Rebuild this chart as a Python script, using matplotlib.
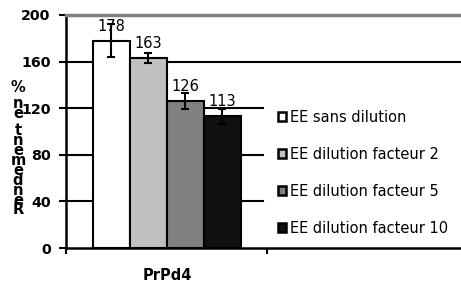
import matplotlib
matplotlib.use("Agg")
import matplotlib.pyplot as plt
from matplotlib.patches import Patch

plt.rcParams['font.family'] = ['DejaVu Sans']

category = "PrPd4"
series = ["EE sans dilution", "EE dilution facteur 2", "EE dilution facteur 5", "EE dilution facteur 10"]
values = [178, 163, 126, 113]
errors = [14, 4, 7, 6.5]
colors = ["#ffffff", "#c0c0c0", "#808080", "#101010"]
yticks = [0, 40, 80, 120, 160, 200]
ylabel = "Rendement en %"

W, H = 461, 286
fig = plt.figure(figsize=(W / 100, H / 100), dpi=100)
L, R, B, T = 66, 461, 248, 15
ax = fig.add_axes([L / W, (H - B) / H, (R - L) / W, (B - T) / H])

cat_w = 267 - L
ax.set_xlim(0, (R - L) / cat_w)
ax.set_ylim(0, 200)

bw = 37 / cat_w
for i, (v, e, c) in enumerate(zip(values, errors, colors)):
    x = 0.5 + (i - 1.5) * bw
    ax.bar(x, v, width=bw, color=c, edgecolor="black", linewidth=1.5, zorder=2)
    ax.errorbar(x, v, yerr=e, fmt="none", ecolor="black", elinewidth=1.5,
                capsize=3, capthick=1.5, zorder=3)
    ax.text(x, v + 6, str(v), ha="center", va="bottom", fontsize=10.5, zorder=4)

# gridlines
gx = (263 - L) / (R - L)
for t in yticks[1:-1]:
    ax.axhline(t, xmin=0, xmax=(1.0 if t == 160 else gx), color="black", lw=1.5, zorder=1)

ax.spines["right"].set_visible(False)
ax.spines["top"].set_color("#808080")
ax.spines["top"].set_linewidth(2.5)
ax.spines["left"].set_linewidth(1.8)
ax.spines["bottom"].set_linewidth(1.8)

ax.set_yticks(yticks)
ax.set_yticklabels([str(t) for t in yticks], fontsize=10.3, fontweight="bold")
ax.tick_params(axis="y", direction="out", length=5, width=1.5, pad=6)
ax.set_xticks([0, 1])
ax.set_xticklabels(["", ""])
ax.tick_params(axis="x", direction="out", length=4, width=1.5)
fig.text(167 / W, 1 - 275 / H, category, ha="center", va="center",
         fontsize=10.5, fontweight="bold")

# stacked, reversed y label
y = 87
step, space = 9.9, 7.0
for ch in ylabel[::-1]:
    if ch == " ":
        y += space - step
    else:
        fig.text(18 / W, 1 - y / H, ch, ha="center", va="center", fontsize=10.5,
                 fontweight="bold")
    y += step

handles = [Patch(facecolor=c, edgecolor="black", linewidth=1.8) for c in colors]
leg = fig.legend(handles, series, loc="upper left",
                 bbox_to_anchor=(278 / W, 1 - 110 / H), frameon=False,
                 fontsize=10.5, handlelength=0.55, handleheight=0.55,
                 handletextpad=0.25, labelspacing=1.5, borderaxespad=0,
                 borderpad=0)

fig.savefig("out.png", dpi=100)
